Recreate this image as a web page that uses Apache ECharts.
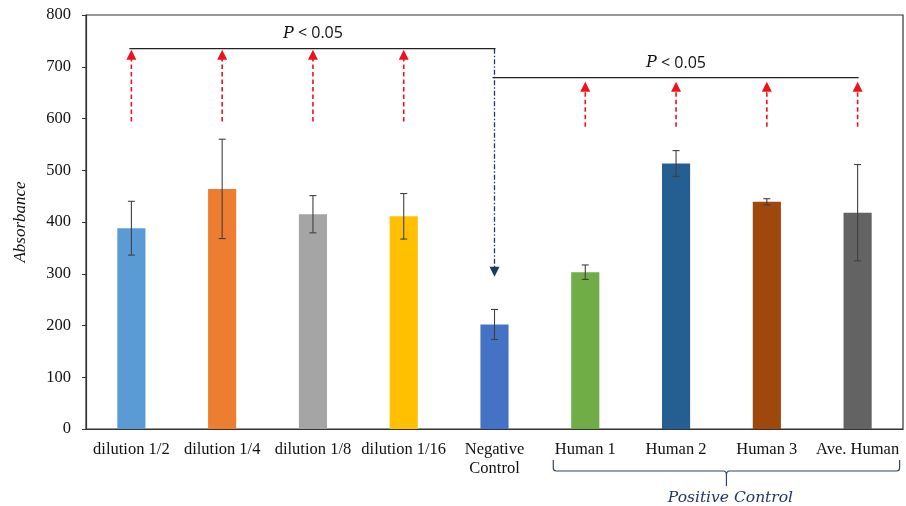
<!DOCTYPE html>
<html>
<head>
<meta charset="utf-8">
<script src="https://cdn.jsdelivr.net/npm/echarts@6/dist/echarts.min.js"></script>
<style>
html,body{margin:0;padding:0;background:#fff;}
#chart{width:906px;height:506px;}
</style>
</head>
<body>
<div id="chart"></div>
<script>
// ---- Data ----
const categories = ['dilution 1/2','dilution 1/4','dilution 1/8','dilution 1/16','Negative\nControl','Human 1','Human 2','Human 3','Ave. Human'];
const values = [388, 464, 415, 411, 202, 303, 513, 439, 418];
const errors = [52, 96, 36, 44, 29, 14, 25, 6, 93];
const barColors = ['#5B9BD5','#ED7D31','#A5A5A5','#FFC000','#4472C4','#70AD47','#255E91','#9E480E','#636363'];
const yTicks = [0,100,200,300,400,500,600,700,800];

// significance annotations (in data units)
const bracketLevels = [735, 679];
const bracketStart = [0, 4];
const bracketEnd = [4, 8];
const pLabelLevel = [764, 707];
const pLabelCat = [1.78, 6.28];
const arrowCats = [0, 1, 2, 3, 5, 6, 7, 8];
const arrowBottom = [594, 594, 594, 594, 584, 584, 584, 584];
const arrowTop = [735, 735, 735, 735, 673, 673, 673, 673];
const negArrowCat = 4;
const negArrowTop = 735;
const negArrowTip = 294;
const positiveGroup = [5, 8];

const chart = echarts.init(document.getElementById('chart'), null, {renderer:'canvas'});

const errData = values.map((v,i)=>[i, v - errors[i], v + errors[i]]);

function arrowHead(x, y, dir, color) {
  // dir: -1 up, +1 down; tip at (x,y)
  const w = 5, h = 10;
  return {type:'polygon', shape:{points:[[x,y],[x-w,y-dir*h],[x+w,y-dir*h]]}, style:{fill:color}};
}

const option = {
  animation:false,
  backgroundColor:'#fff',
  grid:{left:86, right:3, top:15, bottom:77, show:true, borderColor:'#333', borderWidth:1.2},
  xAxis:{
    type:'category', data:categories,
    axisLine:{show:true, lineStyle:{color:'#333', width:1.2}},
    axisTick:{show:false},
    axisLabel:{fontFamily:'Liberation Serif', fontSize:16.5, color:'#111', margin:11, lineHeight:19, interval:0}
  },
  yAxis:{
    type:'value', min:0, max:800, interval:100,
    name:'Absorbance', nameLocation:'middle', nameGap:57,
    nameTextStyle:{fontFamily:'Liberation Serif', fontStyle:'italic', fontSize:17, color:'#111'},
    axisLine:{show:true, lineStyle:{color:'#333', width:1.2}},
    axisTick:{show:true, inside:false, length:4, lineStyle:{color:'#333'}},
    splitLine:{show:false},
    axisLabel:{fontFamily:'Liberation Serif', fontSize:16.5, color:'#111', margin:15,
      formatter:(v)=> yTicks.includes(v) ? String(v) : ''}
  },
  series:[
    {
      type:'bar', data: values.map((v,i)=>({value:v, itemStyle:{color:barColors[i]}})),
      barWidth:'31%'
    },
    {
      type:'custom', data: errData, z:5,
      renderItem:(params, api)=>{
        const i = api.value(0);
        const lo = api.coord([i, api.value(1)]);
        const hi = api.coord([i, api.value(2)]);
        const cw = 3.5;
        const st = {stroke:'#404040', lineWidth:1.1};
        return {type:'group', children:[
          {type:'line', shape:{x1:lo[0],y1:lo[1],x2:hi[0],y2:hi[1]}, style:st},
          {type:'line', shape:{x1:lo[0]-cw,y1:lo[1],x2:lo[0]+cw,y2:lo[1]}, style:st},
          {type:'line', shape:{x1:hi[0]-cw,y1:hi[1],x2:hi[0]+cw,y2:hi[1]}, style:st}
        ]};
      }
    },
    // brackets
    {
      type:'custom', data: bracketLevels.map((lv,k)=>[bracketStart[k], bracketEnd[k], lv]), z:6,
      renderItem:(params, api)=>{
        const a = api.coord([api.value(0), api.value(2)]);
        const b = api.coord([api.value(1), api.value(2)]);
        return {type:'line', shape:{x1:a[0]-2,y1:a[1],x2:b[0]+1,y2:b[1]}, style:{stroke:'#222', lineWidth:1.3}};
      }
    },
    // P labels
    {
      type:'custom', data: pLabelLevel.map((lv,k)=>[pLabelCat[k], lv]), z:6,
      renderItem:(params, api)=>{
        const p = api.coord([api.value(0), api.value(1)]);
        return {type:'text', x:p[0], y:p[1], style:{
          text:'{i|P} < 0.05', align:'center', verticalAlign:'middle',
          rich:{i:{fontFamily:'DejaVu Serif', fontStyle:'italic', fontSize:16, fill:'#111'}},
          fontFamily:'Open Sans', fontSize:16, fill:'#111'
        }};
      }
    },
    // red dashed arrows
    {
      type:'custom', data: arrowCats.map((c,k)=>[c, arrowBottom[k], arrowTop[k]]), z:6,
      renderItem:(params, api)=>{
        const b = api.coord([api.value(0), api.value(1)]);
        const t = api.coord([api.value(0), api.value(2)]);
        const tip = t[1] + 1;
        return {type:'group', children:[
          {type:'line', shape:{x1:b[0],y1:b[1],x2:t[0],y2:tip+9}, style:{stroke:'#E8141E', lineWidth:1.6, lineDash:[4.5,3]}},
          arrowHead(t[0], tip, -1, '#F0101A')
        ]};
      }
    },
    // negative control dash-dot arrow
    {
      type:'custom', data:[[negArrowCat, negArrowTop, negArrowTip]], z:6,
      renderItem:(params, api)=>{
        const t = api.coord([api.value(0), api.value(1)]);
        const b = api.coord([api.value(0), api.value(2)]);
        return {type:'group', children:[
          {type:'line', shape:{x1:t[0],y1:t[1],x2:b[0],y2:b[1]-8}, style:{stroke:'#1F3864', lineWidth:1.3, lineDash:[5,2,1.5,2]}},
          arrowHead(b[0], b[1], 1, '#1F3864')
        ]};
      }
    },
    // positive control brace
    {
      type:'custom', data:[[positiveGroup[0], positiveGroup[1]]], z:6,
      renderItem:(params, api)=>{
        const a = api.coord([api.value(0), 0]);
        const b = api.coord([api.value(1), 0]);
        const x0 = a[0] - 32, x1 = b[0] + 42;
        const xm = (x0 + x1)/2;
        const y = a[1] + 42;
        const col = '#2F4470';
        const path = `M${x0},${y-11} L${x0},${y-3} Q${x0},${y} ${x0+3},${y} L${xm-3},${y} Q${xm},${y} ${xm},${y+4} L${xm},${y+15} M${xm},${y+4} Q${xm},${y} ${xm+3},${y} L${x1-3},${y} Q${x1},${y} ${x1},${y-3} L${x1},${y-11}`;
        return {type:'group', children:[
          {type:'path', shape:{pathData:path}, style:{stroke:col, lineWidth:1.2, fill:null}},
          {type:'text', x:xm+4, y:y+27, style:{text:'Positive Control', align:'center', verticalAlign:'middle',
            fontFamily:'DejaVu Serif', fontStyle:'italic', fontSize:15.5, fill:'#1F3864'}}
        ]};
      }
    }
  ]
};
chart.setOption(option);
</script>
</body>
</html>
